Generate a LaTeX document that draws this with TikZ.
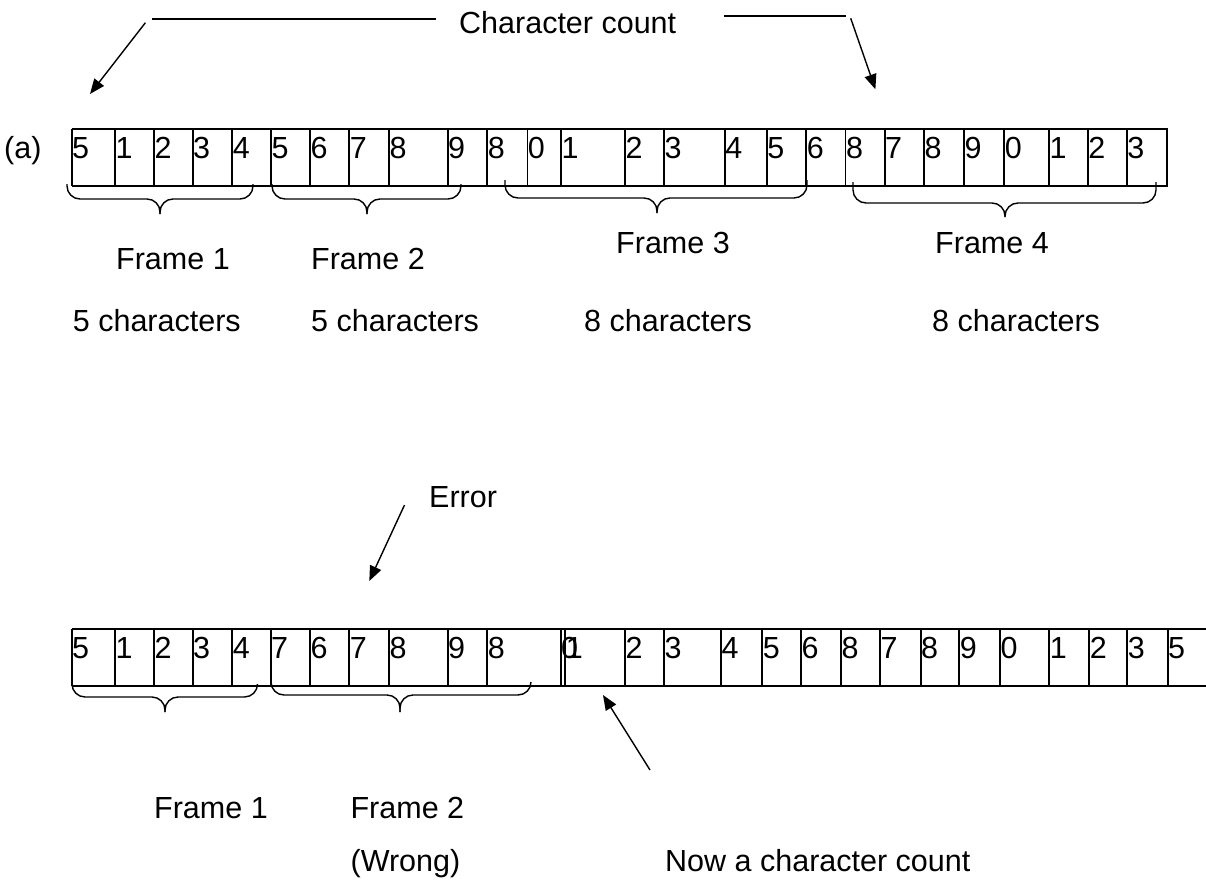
\documentclass[tikz,border=0pt]{standalone}
\usepackage{fontspec}
\setmainfont{Liberation Sans}
\usetikzlibrary{arrows.meta}
\begin{document}
\begin{tikzpicture}[x=1pt,y=-1pt,
  txt/.style={font=\fontsize{30.5}{36}\selectfont, inner sep=0pt, anchor=base west},
  hline/.style={line width=2.4pt},
  vline/.style={line width=1.8pt},
  brace/.style={line width=1.4pt, rounded corners=13pt},
  arr/.style={line width=1.4pt, -{Triangle[length=15pt,width=12pt]}},
  plain/.style={line width=1.4pt}]
\useasboundingbox (0,0) rectangle (1206,888);
% ---------- top row (a) ----------
\draw[hline] (71.7,129) -- (1167.6,129);
\draw[hline] (71.7,186) -- (1167.6,186);
\foreach \x/\d [count=\i] in {71.7/5,115/1,154/2,192.7/3,232.3/4,271/5,310/6,349.3/7,389/8,447.7/9,487.3/8,527.4/0,561.2/1,625/2,664/3,724.9/4,766.8/5,806.3/6,845.5/8,884.6/7,924.1/8,964/9,1004.3/0,1049/1,1087.8/2,1126.9/3}{
  \draw[vline] (\x,129) -- (\x,186);
  \node[txt] (t\i) at (\x+0.3,158.3) {\d};
}
\draw[vline] (1166.8,129) -- (1166.8,186);
\node[txt] (a) at (4,158.3) {(a)};
% ---------- bottom row ----------
\draw[hline] (71.7,629) -- (1206,629);
\draw[hline] (71.7,685.7) -- (1206,685.7);
\foreach \x/\d [count=\i] in {71.7/5,115/1,154/2,192.7/3,232.3/4,270.7/7,310/6,349.3/7,389/8,447.7/9,487.3/8,560.7/0,565.3/1,625/2,664/3,721/4,762.3/5,801/6,841/8,880/7,920.7/8,959.3/9,1000/0,1049.3/1,1089.3/2,1127.3/3,1167.7/5}{
  \draw[vline] (\x,629) -- (\x,685.7);
  \node[txt] (b\i) at (\x+0.3,658.3) {\d};
}
% ---------- braces top ----------
\draw[brace] (67,184) -- (67,199) -- (160,199) -- (160,214);
\draw[brace] (253,184) -- (253,199) -- (160,199) -- (160,214);
\draw[brace] (272,184) -- (272,199) -- (367,199) -- (367,214);
\draw[brace] (461,184) -- (461,199) -- (367,199) -- (367,214);
\draw[brace] (505,180) -- (505,198) -- (657,198) -- (657,213);
\draw[brace] (807,180) -- (807,198) -- (657,198) -- (657,213);
\draw[brace] (853,182) -- (853,203) -- (1005,203) -- (1005,217);
\draw[brace] (1156,182) -- (1156,203) -- (1005,203) -- (1005,217);
% ---------- braces bottom ----------
\draw[brace] (72,686) -- (72,697) -- (165,697) -- (165,712);
\draw[brace] (257.5,684) -- (257.5,697) -- (165,697) -- (165,712);
\draw[brace] (271,679) -- (271,695) -- (400,695) -- (400,712);
\draw[brace] (531,682) -- (531,695) -- (400,695) -- (400,712);
% ---------- labels ----------
\node[txt] (cc) at (459,34) {Character count};
\node[txt] (f1) at (116,269) {Frame 1};
\node[txt] (f2) at (311,269) {Frame 2};
\node[txt] (f3) at (616,253) {Frame 3};
\node[txt] (f4) at (935,253) {Frame 4};
\node[txt] (c1) at (72.7,331) {5 characters};
\node[txt] (c2) at (311,331) {5 characters};
\node[txt] (c3) at (584,331) {8 characters};
\node[txt] (c4) at (932,331) {8 characters};
\node[txt] (err) at (429,507) {Error};
\node[txt] (g1) at (154,818) {Frame 1};
\node[txt] (g2) at (350.4,818) {Frame 2};
\node[txt] (wr) at (350.4,871) {(Wrong)};
\node[txt] (now) at (665,871) {Now a character count};
% ---------- arrows ----------
\coordinate (l1) at (152.3,19); \coordinate (l2) at (435.5,19);
\draw[plain] (l1) -- (l2);
\coordinate (la) at (145.4,22.7); \coordinate (lt) at (90,94);
\draw[arr] (la) -- (lt);
\coordinate (r1) at (723.7,16); \coordinate (r2) at (845.5,16);
\draw[plain] (r1) -- (r2);
\coordinate (ra) at (850.7,18.3); \coordinate (rt) at (875.4,89.3);
\draw[arr] (ra) -- (rt);
\coordinate (ea) at (404.5,505); \coordinate (et) at (369.3,581);
\draw[arr] (ea) -- (et);
\coordinate (na) at (650,770); \coordinate (nt) at (603,695);
\draw[arr] (na) -- (nt);
\end{tikzpicture}
\end{document}
